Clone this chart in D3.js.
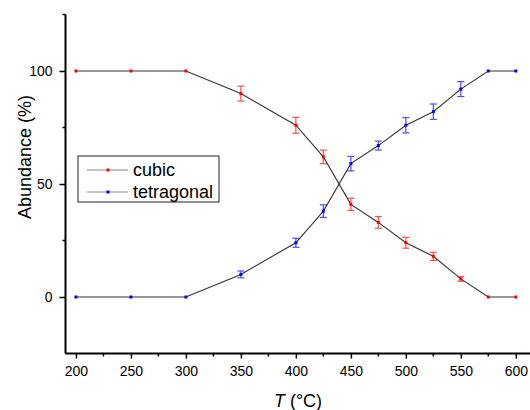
<!DOCTYPE html>
<html>
<head>
<meta charset="utf-8">
<script src="https://cdn.jsdelivr.net/npm/d3@7"></script>
<style>
  body { margin: 0; background: #fff; }
  svg { display: block; font-family: Arial, "Liberation Sans", sans-serif; }
</style>
</head>
<body>
<script>
// data
var temps = [200, 250, 300, 350, 400, 425, 450, 475, 500, 525, 550, 575, 600];
var cubic = [100, 100, 100, 90, 76, 62, 41, 33, 24, 18, 8, 0, 0];
var cubicErr = [0, 0, 0, 3.3, 3.5, 3, 2.7, 2.6, 2.4, 1.8, 1, 0, 0];
var tetragonal = [0, 0, 0, 10, 24, 38, 59, 67, 76, 82, 92, 100, 100];
var tetragonalErr = [0, 0, 0, 1.5, 2, 2.8, 3.2, 2, 3.4, 3.4, 3.3, 0, 0];
var xTicks = [200, 250, 300, 350, 400, 450, 500, 550, 600];
var xMinor = [225, 275, 325, 375, 425, 475, 525, 575];
var yTicks = [0, 50, 100];
var yMinor = [25, 75, 125];

var width = 530, height = 410;

var svg = d3.select("body")
    .append("svg")
    .attr("width", width)
    .attr("height", height);

var xScale = d3.scaleLinear()
    .domain([190.5, 612])
    .range([65.5, 529]);
var yScale = d3.scaleLinear()
    .domain([-25, 125])
    .range([353.5, 14.5]);

var series = [
    { name: "cubic", values: cubic, err: cubicErr, color: "#ff0000" },
    { name: "tetragonal", values: tetragonal, err: tetragonalErr, color: "#0000ff" }
];

var line = d3.line()
    .x(function (d) { return xScale(d.t); })
    .y(function (d) { return yScale(d.v); });

series.forEach(function (s) {
    var pts = temps.map(function (t, i) {
        return { t: t, v: s.values[i], e: s.err[i] };
    });

    svg.append("path")
        .datum(pts)
        .attr("d", line)
        .attr("fill", "none")
        .attr("stroke", "#333")
        .attr("stroke-width", 1.1);

    // error bars
    var eb = svg.append("g")
        .attr("stroke", s.color)
        .attr("stroke-width", 1.2)
        .attr("opacity", 0.7);
    pts.filter(function (d) { return d.e > 0; }).forEach(function (d) {
        var x = xScale(d.t);
        var y1 = yScale(d.v + d.e), y2 = yScale(d.v - d.e);
        eb.append("line").attr("x1", x).attr("x2", x).attr("y1", y1).attr("y2", y2);
        eb.append("line").attr("x1", x - 3.5).attr("x2", x + 3.5).attr("y1", y1).attr("y2", y1);
        eb.append("line").attr("x1", x - 3.5).attr("x2", x + 3.5).attr("y1", y2).attr("y2", y2);
    });

    svg.selectAll(".pt-" + s.name)
        .data(pts)
        .enter()
        .append("rect")
        .attr("x", function (d) { return xScale(d.t) - 1.5; })
        .attr("y", function (d) { return yScale(d.v) - 1.5; })
        .attr("width", 3)
        .attr("height", 3)
        .style("fill", s.color);
});

// axes
var xAxis = svg.append("g")
    .attr("transform", "translate(0," + yScale(-25) + ")")
    .call(d3.axisBottom(xScale).tickValues(xTicks).tickSize(5).tickPadding(8));
xAxis.append("g")
    .selectAll("line")
    .data(xMinor)
    .enter()
    .append("line")
    .attr("x1", function (d) { return xScale(d); })
    .attr("x2", function (d) { return xScale(d); })
    .attr("y1", 0)
    .attr("y2", 3)
    .attr("stroke", "#000")
    .attr("stroke-width", 1.5);

var yAxis = svg.append("g")
    .attr("transform", "translate(" + xScale(190.5) + ",0)")
    .call(d3.axisLeft(yScale).tickValues(yTicks).tickSize(6).tickPadding(7));
yAxis.append("g")
    .selectAll("line")
    .data(yMinor)
    .enter()
    .append("line")
    .attr("y1", function (d) { return yScale(d); })
    .attr("y2", function (d) { return yScale(d); })
    .attr("x1", 0)
    .attr("x2", -3)
    .attr("stroke", "#000")
    .attr("stroke-width", 1.5);

svg.selectAll(".domain")
    .attr("d", null);
xAxis.append("line")
    .attr("x1", xScale(190.5)).attr("x2", width)
    .attr("stroke", "#000").attr("stroke-width", 2);
yAxis.append("line")
    .attr("y1", yScale(125)).attr("y2", yScale(-25))
    .attr("stroke", "#000").attr("stroke-width", 2);

svg.selectAll(".tick line").attr("stroke-width", 1.5);
svg.selectAll(".tick text")
    .style("font-size", "14px")
    .style("font-family", "Arial, 'Liberation Sans', sans-serif")
    .attr("fill", "#000");

// axis titles
var xTitle = svg.append("text")
    .attr("x", 298)
    .attr("y", 407)
    .attr("text-anchor", "middle")
    .style("font-size", "18px");
xTitle.append("tspan").style("font-style", "italic").text("T");
xTitle.append("tspan").text(" (°C)");

svg.append("text")
    .attr("transform", "translate(31,157) rotate(-90)")
    .attr("text-anchor", "middle")
    .style("font-size", "18px")
    .text("Abundance (%)");

// legend
var legend = svg.append("g");
legend.append("rect")
    .attr("x", 78)
    .attr("y", 156)
    .attr("width", 141)
    .attr("height", 46)
    .attr("fill", "#fff")
    .attr("stroke", "#222")
    .attr("stroke-width", 1);
series.forEach(function (s, i) {
    var y = 170 + i * 22;
    legend.append("line")
        .attr("x1", 87).attr("x2", 128)
        .attr("y1", y).attr("y2", y)
        .attr("stroke", "#888")
        .attr("stroke-width", 1);
    legend.append("rect")
        .attr("x", 106.5).attr("y", y - 1.5)
        .attr("width", 3).attr("height", 3)
        .style("fill", s.color);
    legend.append("text")
        .attr("x", 133)
        .attr("y", y + 6)
        .style("font-size", "18px")
        .text(s.name);
});
</script>
</body>
</html>
